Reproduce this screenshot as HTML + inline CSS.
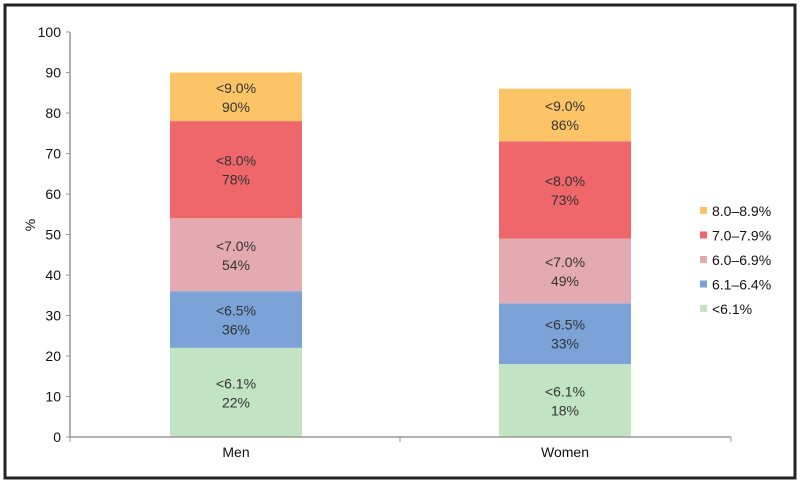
<!DOCTYPE html>
<html><head><meta charset="utf-8"><style>
body{margin:0;background:#fff;}
svg text{font-family:"Liberation Sans",Arial,sans-serif;}
</style></head><body>
<svg width="803" height="485">
<rect x="5" y="5" width="790" height="473" fill="#fff" stroke="#222" stroke-width="3"/>
<g id="plot"></g>
</svg>
<script>
const categories=["Men","Women"];
const cumulative=[[22,36,54,78,90],[18,33,49,73,86]];
const segLabels=["<6.1%","<6.5%","<7.0%","<8.0%","<9.0%"];
const legendLabels=["8.0–8.9%","7.0–7.9%","6.0–6.9%","6.1–6.4%","<6.1%"];
const yTicks=[0,10,20,30,40,50,60,70,80,90,100];
const colors=["#c3e4c3","#7ba3d8","#e4aab1","#ef666b","#fcc466"];
const legendColors=["#fcc466","#ef666b","#e4aab1","#7ba3d8","#c3e4c3"];
const NS="http://www.w3.org/2000/svg";
const g=document.getElementById('plot');
function el(t,a){const e=document.createElementNS(NS,t);for(const k in a)e.setAttribute(k,a[k]);g.appendChild(e);return e;}
const y=v=>437-v*4.05;
const xC=i=>[236,565][i];
const bw=132;
let ax=el('line',{x1:70,y1:y(0),x2:70,y2:y(100),stroke:'#999','stroke-width':1.5});

yTicks.forEach(v=>{
 let t=el('line',{x1:66,x2:70,y1:y(v),y2:y(v),stroke:'#999'});
 
 let l=el('text',{x:61,y:y(v)+5,'text-anchor':'end','font-size':14,fill:'#111'});l.textContent=v;
 
});
let yt=el('text',{x:35,y:225,'font-size':14,'text-anchor':'middle',transform:'rotate(-90 35 225)',fill:'#111'});yt.textContent='%';

categories.forEach((c,i)=>{
 let prev=0;
 cumulative[i].forEach((v,j)=>{
  let r=el('rect',{x:xC(i)-bw/2,y:y(v),width:bw,height:y(prev)-y(v),fill:colors[j]});
  
  const mid=(y(v)+y(prev))/2;
  let t1=el('text',{x:xC(i),y:mid-4,'text-anchor':'middle','font-size':14,fill:'#333'});t1.textContent=segLabels[j];
  
  let t2=el('text',{x:xC(i),y:mid+15,'text-anchor':'middle','font-size':14,fill:'#333'});t2.textContent=v+'%';
  
  prev=v;
 });
 let cl=el('text',{x:xC(i),y:457,'text-anchor':'middle','font-size':14,fill:'#111'});cl.textContent=c;
 
});
let xa=el('line',{x1:70,y1:y(0),x2:731,y2:y(0),stroke:'#999','stroke-width':1.5});

[70,400,731].forEach(x=>{let t=el('line',{x1:x,x2:x,y1:y(0),y2:y(0)+5,stroke:'#999'});
 });
legendLabels.forEach((l,i)=>{
 const ly=211+i*24.5;
 let m=el('rect',{x:700,y:ly-4,width:7,height:7,fill:legendColors[i]});
 
 let t=el('text',{x:712,y:ly+5,'font-size':14,fill:'#111'});t.textContent=l;
 
});
</script>
</body></html>
